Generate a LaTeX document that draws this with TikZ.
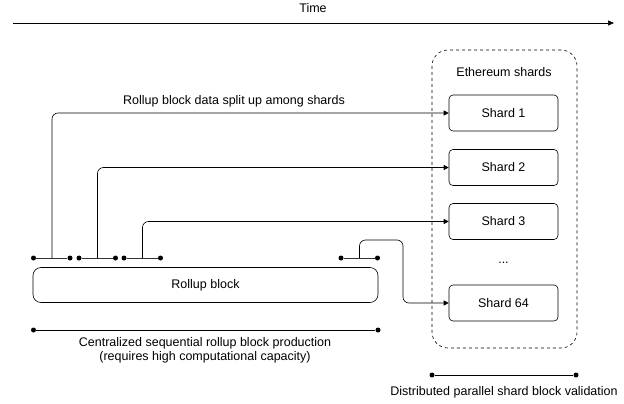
\documentclass[tikz,border=0pt]{standalone}
\usepackage{fontspec}
\setmainfont{Liberation Sans}
\usetikzlibrary{arrows.meta}
\begin{document}
\begin{tikzpicture}[x=1pt,y=-1pt,
  lbl/.style={font=\fontsize{12.5}{15}\selectfont, inner sep=0pt, align=center},
  shardbox/.style={draw, rounded corners=4pt, minimum width=109pt, minimum height=36pt, font=\fontsize{12.5}{15}\selectfont, line width=0.6pt},
  dotnode/.style={circle, fill=black, inner sep=0pt, minimum size=5pt},
  link/.style={line width=0.6pt, rounded corners=6pt, -{Triangle[length=5pt,width=5pt]}},
  seg/.style={line width=0.8pt, black!80}
]
\useasboundingbox (0,0) rectangle (624,404);

% Time
\node[lbl] (time) at (313,8) {Time};
\coordinate (t0) at (13,23);
\coordinate (t1) at (614,23);
\draw[line width=0.6pt, -{Triangle[length=6pt,width=5pt]}] (t0) -- (t1);

% container
\node[draw, dashed, rounded corners=16pt, line width=0.6pt, minimum width=145pt, minimum height=298pt, inner sep=0pt] (cont) at (504.5,199) {};
\node[lbl] (ethlabel) at (504,72) {Ethereum shards};

% shards
\node[shardbox] (s1) at (503.5,113) {Shard 1};
\node[shardbox] (s2) at (503.5,167.5) {Shard 2};
\node[shardbox] (s3) at (503.5,221.5) {Shard 3};
\node[lbl] (dots) at (503.5,263) {...};
\node[shardbox] (s4) at (503.5,303) {Shard 64};

% rollup block
\node[draw, rounded corners=8pt, line width=0.6pt, minimum width=345pt, minimum height=35pt, font=\fontsize{12.5}{15}\selectfont] (rb) at (205.5,285) {Rollup block};

% bus segments
\node[dotnode] (a0) at (33.5,258) {};
\node[dotnode] (a1) at (70,258) {};
\node[dotnode] (b0) at (79,258) {};
\node[dotnode] (b1) at (115.5,258) {};
\node[dotnode] (c0) at (124,258) {};
\node[dotnode] (c1) at (160.5,258) {};
\node[dotnode] (d0) at (341,258) {};
\node[dotnode] (d1) at (377.5,258) {};
\draw[seg] (a0) -- (a1);
\draw[seg] (b0) -- (b1);
\draw[seg] (c0) -- (c1);
\draw[seg] (d0) -- (d1);

\coordinate (ca) at (52,258);
\coordinate (cb) at (97.5,258);
\coordinate (cc) at (142.5,258);
\coordinate (cd) at (359.5,258);

\draw[link] (ca) |- (s1.west);
\draw[link] (cb) |- (s2.west);
\draw[link] (cc) |- (s3.west);
\draw[link] (cd) -- (359.5,240) -- (403,240) -- (403,303) -- (s4.west);

\node[lbl] (splitlbl) at (234,101) {Rollup block data split up among shards};

% bottom ranges
\node[dotnode] (e0) at (33.5,330) {};
\node[dotnode] (e1) at (378,330) {};
\draw[line width=0.6pt] (e0) -- (e1);
\node[lbl, font=\fontsize{12.5}{13.5}\selectfont] (central) at (205,350.5) {Centralized sequential rollup block production\\(requires high computational capacity)};

\node[dotnode] (f0) at (432,375) {};
\node[dotnode] (f1) at (576,375) {};
\draw[line width=0.6pt] (f0) -- (f1);
\node[lbl] (distlbl) at (504,392) {Distributed parallel shard block validation};
\end{tikzpicture}
\end{document}
